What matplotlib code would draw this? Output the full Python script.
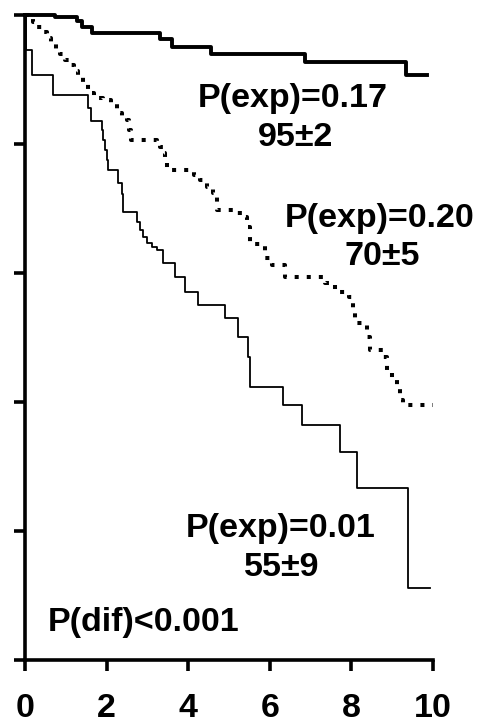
import matplotlib
matplotlib.use("Agg")
import matplotlib.pyplot as plt

plt.rcParams['font.family'] = ['Liberation Sans', 'DejaVu Sans']

# step curves: time of each drop and survival after it
top_t = [0, 0.74, 1.27, 1.40, 1.63, 3.30, 3.60, 4.55, 6.86, 9.34, 9.85]
top_s = [1.0, 0.997, 0.990, 0.982, 0.972, 0.963, 0.950, 0.939, 0.927, 0.907, 0.907]

dot_t = [0, 0.10, 0.20, 0.30, 0.42, 0.53, 0.64, 0.75, 0.86, 0.97, 1.08, 1.20,
         1.31, 1.42, 1.54, 1.70, 1.91, 2.10, 2.25, 2.38, 2.50, 2.56, 2.60,
         3.24, 3.31, 3.38, 3.43, 3.48, 4.15, 4.30, 4.46, 4.60, 4.71, 5.10,
         5.34, 5.44, 5.51, 5.88, 6.05, 6.37, 7.35, 7.60, 7.95, 8.04, 8.09,
         8.38, 8.45, 8.77, 8.87, 9.00, 9.12, 9.19, 9.26, 10.0]
dot_s = [1.0, 0.995, 0.989, 0.982, 0.973, 0.964, 0.955, 0.947, 0.939, 0.930, 0.922, 0.913,
         0.904, 0.896, 0.879, 0.872, 0.868, 0.862, 0.848, 0.842, 0.837, 0.822, 0.806,
         0.800, 0.795, 0.786, 0.772, 0.760, 0.752, 0.744, 0.733, 0.724, 0.698, 0.693,
         0.687, 0.671, 0.645, 0.623, 0.612, 0.594, 0.585, 0.571, 0.563, 0.540, 0.522,
         0.501, 0.481, 0.470, 0.445, 0.434, 0.423, 0.403, 0.395, 0.395]

thin_t = [0, 0.02, 0.16, 0.69, 1.55, 1.62, 1.88, 1.91, 1.96, 2.01, 2.04, 2.29,
          2.37, 2.41, 2.74, 2.82, 2.90, 2.98, 3.11, 3.24, 3.39, 3.68, 3.92,
          4.25, 4.90, 5.23, 5.46, 5.51, 6.33, 6.78, 7.72, 8.13, 9.39, 9.93]
thin_s = [1.0, 0.946, 0.907, 0.876, 0.856, 0.835, 0.822, 0.806, 0.791, 0.775, 0.760, 0.739,
          0.723, 0.695, 0.679, 0.667, 0.656, 0.647, 0.641, 0.636, 0.615, 0.594, 0.571,
          0.550, 0.530, 0.501, 0.470, 0.424, 0.395, 0.364, 0.323, 0.266, 0.111, 0.111]

x_ticks = [0, 2, 4, 6, 8, 10]
y_ticks = [0, 0.2, 0.4, 0.6, 0.8, 1.0]

fig = plt.figure(figsize=(4.82, 7.28), dpi=100)
ax = fig.add_axes([0.0519, 0.0934, 0.8465, 0.886])

ax.step(top_t, top_s, where='post', color='black', lw=2.8, clip_on=False)
ax.step(dot_t, dot_s, where='post', color='black', lw=2.9,
        linestyle=(0, (1, 2.0)), clip_on=False)
ax.step(thin_t, thin_s, where='post', color='black', lw=1.3, clip_on=False)

ax.set_xlim(0, 10)
ax.set_ylim(0, 1.0)
ax.set_xticks(x_ticks)
ax.set_xticklabels([str(v) for v in x_ticks])
ax.set_yticks(y_ticks)
ax.set_yticklabels([])
for side in ['top', 'right']:
    ax.spines[side].set_visible(False)
for side in ['left', 'bottom']:
    ax.spines[side].set_linewidth(2.6)
ax.tick_params(axis='both', direction='out', length=8, width=2.6, color='black')
ax.tick_params(axis='x', pad=16, labelsize=24.5)
for lbl in ax.get_xticklabels():
    lbl.set_fontweight('bold')

tkw = dict(fontsize=24.5, fontweight='bold', ha='center', va='baseline')
ax.text(6.57, 0.857, 'P(exp)=0.17', **tkw)
ax.text(6.62, 0.797, '95±2', **tkw)
ax.text(8.68, 0.671, 'P(exp)=0.20', **tkw)
ax.text(8.75, 0.612, '70±5', **tkw)
ax.text(6.27, 0.191, 'P(exp)=0.01', **tkw)
ax.text(6.30, 0.130, '55±9', **tkw)
ax.text(0.56, 0.045, 'P(dif)<0.001', fontsize=24.5, fontweight='bold',
        ha='left', va='baseline')

fig.savefig('out.png', dpi=100)
